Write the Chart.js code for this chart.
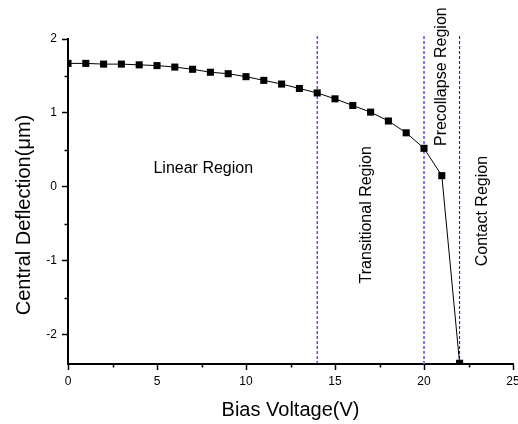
<!DOCTYPE html>
<html>
<head>
<meta charset="utf-8">
<script src="https://cdn.jsdelivr.net/npm/chart.js@4"></script>
<style>
  html, body { margin: 0; padding: 0; background: #fff; }
  #wrap { width: 518px; height: 424px; }
</style>
</head>
<body>
<div id="wrap"><canvas id="myChart" width="518" height="424"></canvas></div>
<script>
// bias voltage (V) and central deflection (um)
var voltage = [0, 1, 2, 3, 4, 5, 6, 7, 8, 9, 10, 11, 12, 13, 14, 15, 16, 17, 18, 19, 20, 21, 22];
var deflection = [1.67, 1.67, 1.66, 1.66, 1.65, 1.64, 1.62, 1.59, 1.55, 1.53, 1.49,
                  1.44, 1.39, 1.33, 1.27, 1.19, 1.10, 1.01, 0.89, 0.73, 0.52, 0.15, -2.39];

// region boundaries (dashed lines)
var boundaries = [14, 20, 22];
var boundaryTop = 2.07;

// region labels: text, x, y (data units), rotated?
var regionText = ["Linear Region", "Transitional Region", "Precollapse Region", "Contact Region"];
var regionX = [7.6, 16.8, 21.0, 23.3];
var regionY = [0.25, -0.38, 1.49, -0.33];
var regionRotated = [false, true, true, true];

var xMin = 0, xMax = 25, xStep = 5;
var yMin = -2.4, yMax = 2, yStep = 1;

var font = "'Liberation Sans', Arial, sans-serif";

var points = [];
for (var i = 0; i < voltage.length; i++) {
    points.push({x: voltage[i], y: deflection[i]});
}

var datasets = [{
    data: points,
    borderColor: "#000",
    backgroundColor: "#000",
    borderWidth: 1,
    pointStyle: "rect",
    pointRadius: 5,
    pointHoverRadius: 5,
    pointBorderWidth: 0
}];

for (var j = 0; j < boundaries.length; j++) {
    var mid = (j === 1);
    datasets.push({
        data: [{x: boundaries[j], y: yMin}, {x: boundaries[j], y: boundaryTop}],
        borderColor: mid ? "#7a7aff" : "#0000ff",
        borderWidth: mid ? 2 : 1,
        borderDash: [3, 2],
        pointRadius: 0,
        clip: false
    });
}

// minor ticks, region labels and y title
var extras = {
    id: "extras",
    afterDraw: function (chart) {
        var ctx = chart.ctx;
        var xs = chart.scales.x, ys = chart.scales.y;
        ctx.save();
        ctx.strokeStyle = "#000";
        ctx.lineWidth = 1.5;
        ctx.beginPath();
        for (var v = xMin + xStep / 2; v < xMax; v += xStep) {
            var px = Math.round(xs.getPixelForValue(v)) + 0.5;
            ctx.moveTo(px, ys.bottom);
            ctx.lineTo(px, ys.bottom + 3.5);
        }
        for (var w = Math.ceil(yMin) - yStep / 2; w < yMax; w += yStep) {
            if (w < yMin) continue;
            var py = Math.round(ys.getPixelForValue(w)) + 0.5;
            ctx.moveTo(xs.left, py);
            ctx.lineTo(xs.left - 3.5, py);
        }
        ctx.stroke();

        ctx.fillStyle = "#000";
        ctx.font = "16px " + font;
        ctx.textAlign = "center";
        ctx.textBaseline = "middle";
        for (var k = 0; k < regionText.length; k++) {
            ctx.save();
            ctx.translate(xs.getPixelForValue(regionX[k]), ys.getPixelForValue(regionY[k]));
            if (regionRotated[k]) ctx.rotate(-Math.PI / 2);
            ctx.fillText(regionText[k], 0, 0);
            ctx.restore();
        }

        ctx.font = "20px " + font;
        ctx.translate(24, 215);
        ctx.rotate(-Math.PI / 2);
        ctx.fillText("Central Deflection(\u03bcm)", 0, 0);
        ctx.restore();
    }
};

var ctx = document.getElementById("myChart").getContext("2d");
var chart = new Chart(ctx, {
    type: "line",
    data: {datasets: datasets},
    options: {
        responsive: false,
        animation: false,
        events: [],
        layout: {padding: {left: 0, right: 5, top: 39, bottom: 0}},
        plugins: {legend: {display: false}, tooltip: {enabled: false}},
        scales: {
            x: {
                type: "linear",
                min: xMin,
                max: xMax,
                grid: {drawOnChartArea: false, drawTicks: true, tickLength: 6, tickWidth: 1.5, tickColor: "#000"},
                border: {display: true, color: "#000", width: 2},
                ticks: {stepSize: xStep, padding: 4, color: "#000", font: {family: font, size: 12}},
                title: {display: true, text: "Bias Voltage(V)", color: "#000",
                        font: {family: font, size: 20}, padding: {top: 0, bottom: 2}},
                afterFit: function (scale) {
                    scale.height = 60;
                    scale.paddingRight = 0;
                    scale.paddingLeft = 0;
                }
            },
            y: {
                type: "linear",
                min: yMin,
                max: yMax,
                grid: {drawOnChartArea: false, drawTicks: true, tickLength: 6, tickWidth: 1.5, tickColor: "#000"},
                border: {display: true, color: "#000", width: 2},
                ticks: {stepSize: yStep, includeBounds: false, padding: 5, color: "#000",
                        font: {family: font, size: 12}},
                afterFit: function (scale) {
                    scale.width = 68;
                    scale.paddingTop = 0;
                    scale.paddingBottom = 0;
                }
            }
        }
    },
    plugins: [extras]
});
</script>
</body>
</html>
